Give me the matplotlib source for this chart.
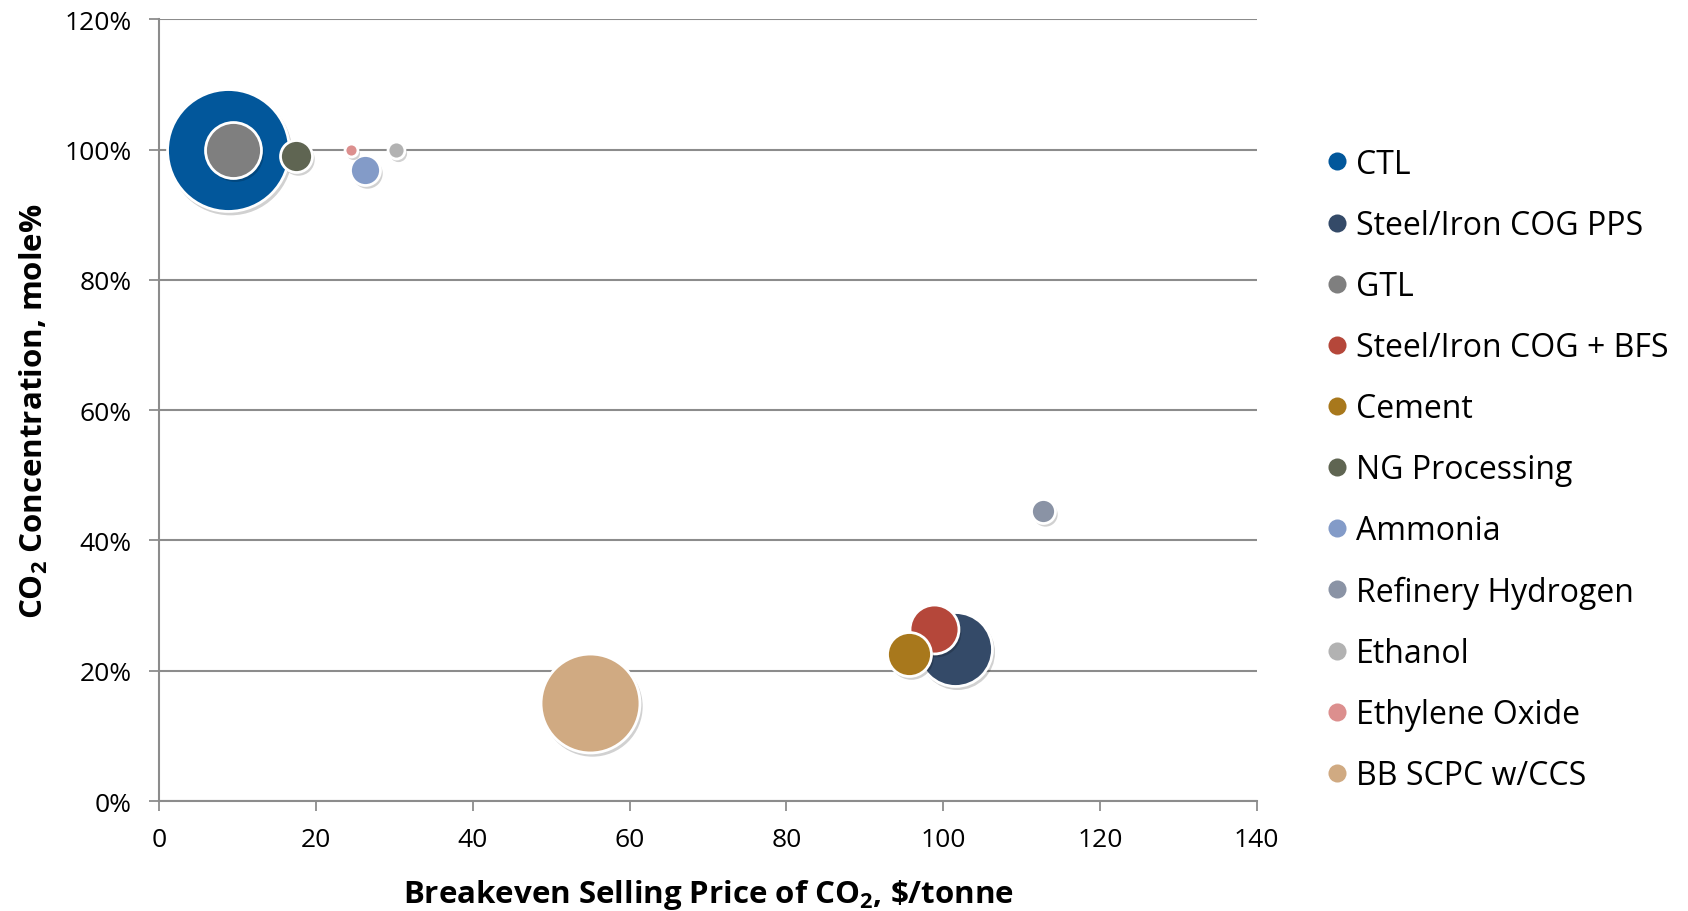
import matplotlib
matplotlib.use('Agg')
import matplotlib.pyplot as plt
from matplotlib.transforms import offset_copy
from matplotlib.ticker import FuncFormatter

# Data
sources = ['CTL', 'Steel/Iron COG PPS', 'GTL', 'Steel/Iron COG + BFS', 'Cement',
           'NG Processing', 'Ammonia', 'Refinery Hydrogen', 'Ethanol',
           'Ethylene Oxide', 'BB SCPC w/CCS']
price = [8.7, 101.5, 9.4, 98.9, 95.7, 17.4, 26.3, 112.7, 30.2, 24.4, 55.0]
conc = [100.0, 23.3, 100.0, 26.4, 22.5, 99.0, 96.9, 44.5, 100.0, 100.0, 15.0]
bubble = [3721, 1369, 784, 600, 484, 256, 225, 144, 72, 42, 2450]
colors = ['#02579b', '#344a68', '#7f7f7f', '#b5473a', '#a8781c', '#5f6552',
          '#839bc8', '#8a93a5', '#b2b2b2', '#dc8f8e', '#d0aa82']

plt.rcParams['font.family'] = ['Open Sans', 'DejaVu Sans']
plt.rcParams['mathtext.fontset'] = 'custom'
plt.rcParams['mathtext.rm'] = 'Open Sans'
plt.rcParams['mathtext.bf'] = 'Open Sans:bold'

fig = plt.figure(figsize=(16.88, 9.12), dpi=100)
ax = fig.add_axes([0.0944, 0.1206, 0.65, 0.857])

shadow = offset_copy(ax.transData, fig=fig, x=2, y=-3, units='dots')
for i in range(len(sources)):
    s = bubble[i] * 2.07
    ax.scatter(price[i], conc[i], s=s * 1.03, color='black', alpha=0.18,
               linewidths=0, transform=shadow, zorder=2 + 2 * i, clip_on=False)
    ax.scatter(price[i], conc[i], s=s, color=colors[i], edgecolors='white',
               linewidths=2, zorder=3 + 2 * i, label=sources[i], clip_on=False)

ax.set_xlim(0, 140)
ax.set_ylim(0, 120)
ax.set_xticks(range(0, 141, 20))
ax.set_yticks(range(0, 121, 20))
ax.yaxis.set_major_formatter(FuncFormatter(lambda v, p: f'{v:.0f}%'))
ax.grid(axis='y', color='#8c8c8c', linewidth=1.5)
ax.set_axisbelow(True)
for side in ['top', 'right']:
    ax.spines[side].set_visible(False)
for side in ['left', 'bottom']:
    ax.spines[side].set_color('#8c8c8c')
    ax.spines[side].set_linewidth(1.5)
ax.tick_params(axis='both', colors='#8c8c8c', width=1.3, length=7,
               labelcolor='black', labelsize=19)
ax.tick_params(axis='x', pad=12)
ax.tick_params(axis='y', pad=13)

ax.set_xlabel(r'Breakeven Selling Price of CO$_\mathbf{2}$, \$/tonne',
              fontsize=22.5, fontweight='bold', labelpad=18)
ax.set_ylabel(r'CO$_\mathbf{2}$ Concentration, mole%', fontsize=22.5,
              fontweight='bold', labelpad=10)

handles = [plt.Line2D([], [], marker='o', linestyle='', markersize=13,
                      markerfacecolor=c, markeredgecolor='none') for c in colors]
fig.legend(handles, sources, loc='upper left', bbox_to_anchor=(0.775, 0.851),
           frameon=False, fontsize=23, handletextpad=0.1, labelspacing=0.88,
           handlelength=1.0, borderaxespad=0)

fig.savefig('out.png', dpi=100)
